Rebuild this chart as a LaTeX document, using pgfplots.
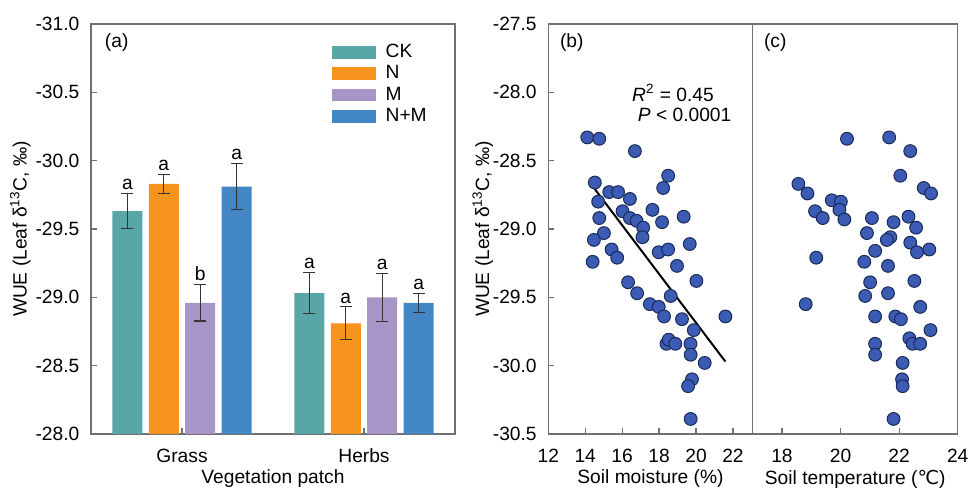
\documentclass[border=0pt]{standalone}
\usepackage{fontspec}
\setmainfont{Liberation Sans}
\newfontfamily\dejavu{DejaVu Sans}
\usepackage{pgfplots}
\pgfplotsset{compat=1.18}
\usepackage{pgfplotstable}
\definecolor{ck}{HTML}{58A6A6}
\definecolor{nn}{HTML}{F7941E}
\definecolor{mm}{HTML}{A895C8}
\definecolor{nm}{HTML}{4286C6}
\definecolor{axgray}{HTML}{707070}
\definecolor{dotfill}{HTML}{3B5BB5}
\definecolor{dotedge}{HTML}{1A2A55}
\newcommand\fs{\fontsize{9.6}{11.5}\selectfont}

% soil moisture vs WUE (panel b)
\pgfplotstableread{
sm wue
14.11 -28.33
14.76 -28.34
16.69 -28.43
18.49 -28.61
18.22 -28.70
14.52 -28.66
15.30 -28.73
15.78 -28.73
16.42 -28.78
14.70 -28.80
16.02 -28.87
17.64 -28.86
16.42 -28.92
16.78 -28.94
14.76 -28.92
17.14 -28.99
18.16 -28.95
19.33 -28.91
15.01 -29.03
17.10 -29.06
14.47 -29.08
19.66 -29.11
15.43 -29.15
15.73 -29.21
14.40 -29.24
17.98 -29.17
18.49 -29.15
18.97 -29.27
16.32 -29.39
20.02 -29.38
16.81 -29.47
18.63 -29.49
17.50 -29.55
17.98 -29.57
18.27 -29.64
19.24 -29.66
21.59 -29.64
19.88 -29.74
18.40 -29.84
18.52 -29.81
18.88 -29.84
19.70 -29.84
19.71 -29.92
20.47 -29.98
19.78 -30.10
19.57 -30.15
19.71 -30.39
}\moisture

% soil temperature vs WUE (panel c)
\pgfplotstableread{
st wue
20.22 -28.34
21.66 -28.33
22.38 -28.43
22.04 -28.61
22.84 -28.70
23.09 -28.74
18.56 -28.67
18.87 -28.74
19.70 -28.79
20.01 -28.80
19.96 -28.86
19.13 -28.87
19.39 -28.92
20.13 -28.93
21.07 -28.92
22.32 -28.91
21.81 -28.95
22.58 -28.99
20.90 -29.03
21.70 -29.06
21.58 -29.08
22.38 -29.10
21.18 -29.16
22.61 -29.17
23.03 -29.15
19.17 -29.21
20.81 -29.24
21.62 -29.27
21.01 -29.39
22.52 -29.38
20.84 -29.49
21.62 -29.47
18.81 -29.55
22.72 -29.57
21.18 -29.64
21.87 -29.64
22.06 -29.66
23.07 -29.74
22.35 -29.80
22.46 -29.84
22.72 -29.84
21.18 -29.84
21.18 -29.92
22.12 -29.98
22.10 -30.10
22.12 -30.15
21.81 -30.39
}\temperature

\pgfplotsset{
  panel/.style={
    scale only axis, anchor=south west,
    axis line style={draw=axgray, line width=0.7pt},
    tick style={draw=axgray, line width=0.6pt},
    tick align=inside, major tick length=3pt, tick pos=left,
    /pgf/number format/assume math mode=true,
    tick label style={font=\fs},
    label style={font=\fs},
    xticklabel style={anchor=center, yshift=-11pt},
    yticklabel style={xshift=-2.3pt, /pgf/number format/.cd, fixed, fixed zerofill, precision=1},
    xlabel style={at={(axis description cs:0.5,0)}, anchor=center, yshift=-22.5pt},
  },
  bars/.style={ybar, bar width=0.165, draw=none, fill=#1,
    error bars/.cd, y dir=both, y explicit,
    error bar style={draw=black!80, line width=0.6pt},
    error mark options={rotate=90, mark size=3pt, draw=black!80, line width=0.6pt}},
  letters/.style={only marks, mark=none, forget plot, nodes near coords,
    point meta=explicit symbolic,
    nodes near coords style={anchor=south, inner sep=1.6pt, font=\fs}},
  dots/.style={only marks, mark=*, mark size=3.2pt,
    mark options={fill=dotfill, draw=dotedge, line width=0.5pt}},
}

\begin{document}
\begin{tikzpicture}
\useasboundingbox (0,0) rectangle (484pt,245pt);

% (a) bar chart
\begin{axis}[panel, at={(45.5pt,28pt)}, width=182pt, height=205pt,
    xmin=-0.5, xmax=1.5, ymin=-31, ymax=-28, y dir=reverse,
    xtick={0,1}, xticklabels={Grass,Herbs},
    ytick={-31,-30.5,-30,-29.5,-29,-28.5,-28},
    xlabel={Vegetation patch},
    ylabel={WUE (Leaf δ\textsuperscript{13}C, ‰)},
    ylabel style={at={(axis description cs:-0.194,0.5)}, anchor=center},
    legend style={at={(0.66,0.962)}, anchor=north west, draw=none, fill=none,
      font=\fs, row sep=-1.4pt, inner sep=0pt,
      /tikz/every odd column/.append style={column sep=3pt}},
    legend cell align=left,
    legend image code/.code={\fill[#1] (0pt,-3.2pt) rectangle (22pt,3.2pt);},
  ]
  \addplot[bars=ck] coordinates {(-0.3,-29.63) +- (0,0.128) (0.7,-29.03) +- (0,0.15)};
  \addlegendentry{CK}
  \addplot[bars=nn] coordinates {(-0.1,-29.83) +- (0,0.068) (0.9,-28.81) +- (0,0.12)};
  \addlegendentry{N}
  \addplot[bars=mm] coordinates {(0.1,-28.96) +- (0,0.133) (1.1,-29.00) +- (0,0.175)};
  \addlegendentry{M}
  \addplot[bars=nm] coordinates {(0.3,-29.81) +- (0,0.17) (1.3,-28.96) +- (0,0.07)};
  \addlegendentry{N+M}
  \addplot[letters] coordinates {
    (-0.3,-29.758) [a] (-0.1,-29.898) [a] (0.1,-29.093) [b] (0.3,-29.98) [a]
    (0.7,-29.18) [a] (0.9,-28.93) [a] (1.1,-29.175) [a] (1.3,-29.03) [a]};
  \node[anchor=west, font=\fs] at (rel axis cs:0.019,0.954) {(a)};
\end{axis}

% (b) soil moisture
\begin{axis}[panel, at={(274.15pt,28pt)}, width=102.2pt, height=205pt,
    xmin=12, xmax=23.07, ymin=-30.5, ymax=-27.5,
    xtick={12,14,16,18,20,22},
    ytick={-30.5,-30,-29.5,-29,-28.5,-28,-27.5},
    xlabel={Soil moisture (\%)},
    ylabel={WUE (Leaf δ\textsuperscript{13}C, ‰)},
    ylabel style={at={(axis description cs:-0.32,0.5)}, anchor=center},
  ]
  \addplot[dots] table[x=sm, y=wue] {\moisture};
  \addplot[black, line width=1pt] coordinates {(14.25,-28.66) (21.59,-29.97)};
  \node[anchor=west, font=\fs] at (rel axis cs:0.023,0.954) {(b)};
  \node[font=\fs] at (rel axis cs:0.61,0.832) {\textit{R}\textsuperscript{2} = 0.45};
  \node[font=\fs] at (rel axis cs:0.667,0.778) {\textit{P} < 0.0001};
\end{axis}

% (c) soil temperature
\begin{axis}[panel, at={(376.35pt,28pt)}, width=102.5pt, height=205pt,
    xmin=17, xmax=24, ymin=-30.5, ymax=-27.5,
    xtick={18,20,22,24}, ytick=\empty,
    xlabel={Soil temperature ({\dejavu ℃})},
  ]
  \addplot[dots] table[x=st, y=wue] {\temperature};
  \node[anchor=west, font=\fs] at (rel axis cs:0.021,0.954) {(c)};
\end{axis}
\end{tikzpicture}
\end{document}
